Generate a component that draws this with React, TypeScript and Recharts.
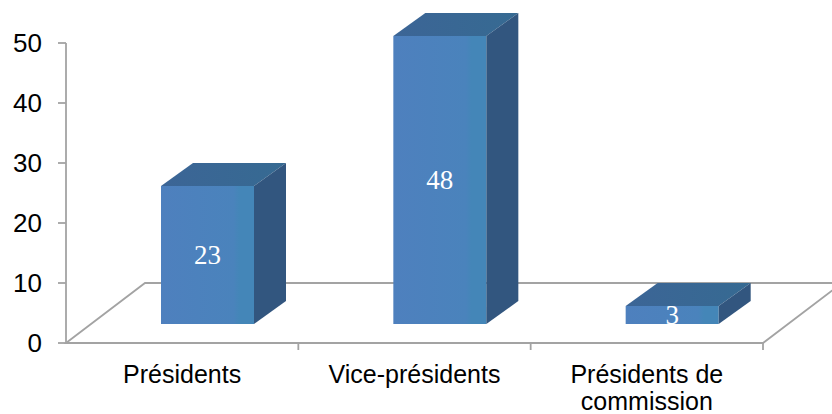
import React from 'react';
import { BarChart, Bar, XAxis, YAxis, LabelList, Customized } from 'recharts';

const categories = ['Présidents', 'Vice-présidents', 'Présidents de\ncommission'];
const counts = [23, 48, 3];
const yTicks = [0, 10, 20, 30, 40, 50];

const data = categories.map((name, i) => ({ name, count: counts[i] }));

const WIDTH = 832;
const HEIGHT = 414;
const MARGIN = { top: 43, right: 69, bottom: 0, left: 0 };
const Y_AXIS_WIDTH = 66;
const X_AXIS_HEIGHT = 71;

// perspective: floor depth, how far the bars sit into it, and box depth
const FLOOR_DX = 79;
const FLOOR_DY = 60;
const SHIFT_X = 25;
const SHIFT_Y = 19;
const BOX_DX = 32;
const BOX_DY = 23;

const SANS = "'Liberation Sans', Arial, sans-serif";
const SERIF = "'Liberation Serif', 'Times New Roman', serif";
const LINE = '#a3a3a3';

const Floor = () => {
  const left = Y_AXIS_WIDTH;
  const right = WIDTH - MARGIN.right;
  const base = HEIGHT - X_AXIS_HEIGHT;
  const band = (right - left) / categories.length;
  const bounds = Array.from({ length: categories.length + 1 }, (_, i) => left + band * i);
  return (
    <g>
      <defs>
        <linearGradient id="boxFront" x1="0" y1="0" x2="1" y2="0">
          <stop offset="0%" stopColor="#4e80be" />
          <stop offset="78%" stopColor="#4a83bc" />
          <stop offset="84%" stopColor="#4486b8" />
          <stop offset="100%" stopColor="#4486b8" />
        </linearGradient>
        <linearGradient id="boxTop" x1="0" y1="0" x2="1" y2="0">
          <stop offset="0%" stopColor="#3c6596" />
          <stop offset="100%" stopColor="#366a92" />
        </linearGradient>
      </defs>
      <polygon
        points={`${left},${base} ${left + FLOOR_DX},${base - FLOOR_DY} ${right + FLOOR_DX},${base - FLOOR_DY} ${right},${base}`}
        fill="#fff"
        stroke={LINE}
        strokeWidth={1.8}
      />
      {bounds.slice(1).map((bx) => (
        <line key={bx} x1={bx} y1={base} x2={bx} y2={base + 7} stroke={LINE} strokeWidth={1.8} />
      ))}
    </g>
  );
};

const Box3D = (props: any) => {
  const { x, y, width, height } = props;
  const fx = x + SHIFT_X;
  const fy = y - SHIFT_Y;
  const rx = fx + width;
  const top = `${fx},${fy} ${fx + BOX_DX},${fy - BOX_DY} ${rx + BOX_DX},${fy - BOX_DY} ${rx},${fy}`;
  const side = `${rx},${fy} ${rx + BOX_DX},${fy - BOX_DY} ${rx + BOX_DX},${fy + height - BOX_DY} ${rx},${fy + height}`;
  return (
    <g>
      <rect x={fx} y={fy} width={width} height={height} fill="url(#boxFront)" />
      <polygon points={top} fill="url(#boxTop)" />
      <polygon points={side} fill="#32567f" />
    </g>
  );
};

const ValueLabel = (props: any) => {
  const { x, y, width, height, value } = props;
  return (
    <text
      x={x + SHIFT_X + width / 2}
      y={y - SHIFT_Y + height / 2 + 9}
      textAnchor="middle"
      fill="#fff"
      fontFamily={SERIF}
      fontSize={27}
    >
      {value}
    </text>
  );
};

const CategoryTick = (props: any) => {
  const { x, y, payload } = props;
  const lines = String(payload.value).split('\n');
  return (
    <g>
      {lines.map((line, i) => (
        <text
          key={i}
          x={x}
          y={y + 28 + i * 27}
          textAnchor="middle"
          fontFamily={SANS}
          fontSize={25}
          fill="#000"
        >
          {line}
        </text>
      ))}
    </g>
  );
};

export default function App() {
  return (
    <div style={{ position: 'absolute', left: 0, top: 0, width: WIDTH, height: HEIGHT, background: '#fff' }}>
      <BarChart width={WIDTH} height={HEIGHT} data={data} margin={MARGIN} barSize={93}>
        <Customized component={Floor} />
        <XAxis
          dataKey="name"
          height={X_AXIS_HEIGHT}
          axisLine={false}
          tickLine={false}
          tickMargin={6}
          interval={0}
          tick={<CategoryTick />}
        />
        <YAxis
          width={Y_AXIS_WIDTH}
          domain={[0, 50]}
          ticks={yTicks}
          interval={0}
          axisLine={{ stroke: LINE, strokeWidth: 1.8 }}
          tickLine={{ stroke: LINE, strokeWidth: 1.8 }}
          tickSize={8}
          tickMargin={16}
          tick={{ fill: '#000', fontSize: 26, fontFamily: SANS }}
        />
        <Bar dataKey="count" shape={<Box3D />} isAnimationActive={false}>
          <LabelList dataKey="count" content={<ValueLabel />} />
        </Bar>
      </BarChart>
    </div>
  );
}
